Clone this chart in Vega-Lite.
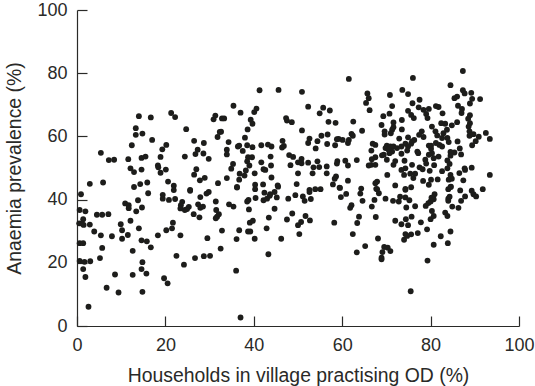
{"$schema":"https://vega.github.io/schema/vega-lite/v6.json","width":442,"height":316,"autosize":{"type":"none"},"padding":{"left":77,"top":10,"right":16,"bottom":60},"background":"white","config":{"view":{"stroke":null}},
"data":{"values":[
{"x":2.9,"y":45},{"x":5.9,"y":45.4},{"x":5.4,"y":54.8},{"x":7.2,"y":52.5},{"x":8.4,"y":52.6},{"x":11.6,"y":52.8},{"x":12.1,"y":49.9},{"x":12.9,"y":48.7},{"x":14.6,"y":49.5},{"x":12.4,"y":57.2},{"x":13.3,"y":62.6},{"x":13.3,"y":60.5},{"x":14.8,"y":60.9},{"x":14,"y":66.4},{"x":16.7,"y":66},{"x":17,"y":58.9},{"x":14.6,"y":53.2},{"x":15.5,"y":53.6},{"x":12.9,"y":44},{"x":14.3,"y":44.9},{"x":15.9,"y":45.4},{"x":18.9,"y":53.5},{"x":19.3,"y":55.9},{"x":20.2,"y":57.3},{"x":18.3,"y":50.8},{"x":18.4,"y":50.2},{"x":18.9,"y":48.5},{"x":20.1,"y":49.5},{"x":20.6,"y":45.7},{"x":21.9,"y":44.4},{"x":21.3,"y":67.4},{"x":22.2,"y":66.1},{"x":24.7,"y":62.3},{"x":24.4,"y":53.6},{"x":26.5,"y":58.6},{"x":28.7,"y":57.9},{"x":27.3,"y":55.8},{"x":26.8,"y":54.4},{"x":28.6,"y":54.6},{"x":29.8,"y":52.9},{"x":27,"y":49.6},{"x":26.5,"y":47.9},{"x":27.8,"y":46.1},{"x":28.9,"y":46.9},{"x":25.6,"y":43.1},{"x":31.9,"y":45.2},{"x":30.9,"y":65.4},{"x":31.3,"y":66.6},{"x":32.8,"y":65.7},{"x":33.3,"y":65.7},{"x":32.6,"y":61.5},{"x":32.3,"y":61.4},{"x":31.8,"y":59.8},{"x":34.3,"y":58.2},{"x":33.9,"y":55.8},{"x":33.9,"y":54.3},{"x":35.4,"y":69.7},{"x":37,"y":67.5},{"x":36.4,"y":56.8},{"x":36.7,"y":57.1},{"x":37.5,"y":55.4},{"x":38,"y":59.6},{"x":38.5,"y":57.2},{"x":39.7,"y":56.6},{"x":38.6,"y":62.2},{"x":39.3,"y":65.3},{"x":39.7,"y":64},{"x":40.1,"y":67.7},{"x":40.6,"y":68.8},{"x":41.3,"y":74.6},{"x":41.7,"y":57.2},{"x":38.7,"y":53.4},{"x":39.6,"y":53.4},{"x":38.5,"y":52.1},{"x":39,"y":50.8},{"x":41.7,"y":51.8},{"x":42.2,"y":49.6},{"x":35.3,"y":51.3},{"x":34.9,"y":49.8},{"x":33.9,"y":46.8},{"x":36.8,"y":48.2},{"x":38.2,"y":49.2},{"x":37.9,"y":47.6},{"x":36.7,"y":46.3},{"x":40.2,"y":48.3},{"x":36.2,"y":44},{"x":40.3,"y":44.7},{"x":42.1,"y":44.8},
{"x":87.3,"y":80.7},{"x":61.5,"y":78.2},{"x":76,"y":78.5},{"x":45.6,"y":74.7},{"x":50.9,"y":74.1},{"x":84.5,"y":76.2},{"x":65.7,"y":73.6},{"x":66,"y":72.1},{"x":65.4,"y":70.6},{"x":66.2,"y":68.3},{"x":70.8,"y":73.1},{"x":73.6,"y":74.7},{"x":74.9,"y":73.4},{"x":77.5,"y":71.6},{"x":75.9,"y":70.5},{"x":71.3,"y":69.6},{"x":70.7,"y":67.2},{"x":69.3,"y":66.4},{"x":74.9,"y":68.1},{"x":75.6,"y":66.8},{"x":76.2,"y":65.8},{"x":77.3,"y":69.2},{"x":78.4,"y":68.4},{"x":79.6,"y":68.7},{"x":79,"y":67.1},{"x":79.3,"y":65.8},{"x":81.2,"y":69.6},{"x":81.8,"y":69.3},{"x":82.7,"y":67.3},{"x":85.4,"y":72.1},{"x":86,"y":72.6},{"x":87.3,"y":74.6},{"x":87.7,"y":73.6},{"x":89.2,"y":73.8},{"x":89.4,"y":71.9},{"x":88.9,"y":70.4},{"x":91.2,"y":71.8},{"x":86.2,"y":69.7},{"x":87.1,"y":68.7},{"x":87,"y":67.4},{"x":88.9,"y":66.7},{"x":88.5,"y":65.6},{"x":86,"y":64.5},{"x":88.9,"y":64.2},{"x":88.6,"y":63.1},{"x":84.8,"y":63.5},{"x":82.4,"y":64.2},{"x":83.3,"y":64},{"x":80.3,"y":63.1},{"x":81.1,"y":61.6},{"x":81.5,"y":60.3},{"x":83.7,"y":62.1},{"x":82.9,"y":61},{"x":82.6,"y":59.5},{"x":83.8,"y":59.5},{"x":84.1,"y":58.2},{"x":88.8,"y":61.6},{"x":88.8,"y":60.2},{"x":89.7,"y":60.7},{"x":90.9,"y":59.9},{"x":92.5,"y":61.1},{"x":93.4,"y":59.2},{"x":90.2,"y":58.5},{"x":89.4,"y":57.2},{"x":86.1,"y":58.4},{"x":86.6,"y":56.2},{"x":86.9,"y":54.3},{"x":85.4,"y":54.9},{"x":84.5,"y":55.1},{"x":84.5,"y":53.9},{"x":83.8,"y":52.4},{"x":84.3,"y":51.3},{"x":83.8,"y":49.9},{"x":86.5,"y":48.4},{"x":87.8,"y":49.4},{"x":87.7,"y":49.9},{"x":89.3,"y":50.1},{"x":93.4,"y":47.8},{"x":82.6,"y":49},{"x":84.5,"y":47.8},{"x":84.1,"y":46.3},{"x":84.8,"y":46.6},{"x":87.4,"y":46.1},{"x":84.6,"y":44.1},{"x":81.6,"y":46.4},{"x":79.8,"y":49.1},{"x":80.8,"y":50.9},{"x":81.8,"y":53.6},{"x":80.1,"y":56.1},{"x":79.6,"y":57.1},{"x":80.1,"y":57.1},{"x":81.2,"y":57.9},{"x":82,"y":57.3},{"x":82.6,"y":56.8},{"x":80.3,"y":54.7},{"x":79.6,"y":54.2},{"x":80.7,"y":53.1},{"x":78.8,"y":52.6},{"x":79,"y":51.4},{"x":77.5,"y":50.2},{"x":78.2,"y":49.6},{"x":75.8,"y":51},{"x":74.1,"y":52.3},{"x":77,"y":55.2},{"x":77.2,"y":54.7},{"x":78,"y":61.6},{"x":77.4,"y":60.5},{"x":78.4,"y":59.8},{"x":76.3,"y":58.9},{"x":74.9,"y":59.7},{"x":72.9,"y":59.3},{"x":73.5,"y":62.2},{"x":73.5,"y":65.2},{"x":71.6,"y":64.4},{"x":71.6,"y":62.9},{"x":71.3,"y":62.1},{"x":68.9,"y":63.6},{"x":69.6,"y":61.6},{"x":69.6,"y":60.6},{"x":71,"y":61},
{"x":70.1,"y":57.1},{"x":70.9,"y":56.8},{"x":71.6,"y":56.8},{"x":69.8,"y":56.3},{"x":70.5,"y":55.8},{"x":71.3,"y":55.2},{"x":70.7,"y":54.7},{"x":72.4,"y":56.3},{"x":73.4,"y":56.8},{"x":74.3,"y":57.7},{"x":74.9,"y":56.8},{"x":75.8,"y":58.4},{"x":75.6,"y":57.7},{"x":74.7,"y":55.5},{"x":73.4,"y":54.5},{"x":69.4,"y":54.2},{"x":69,"y":54},{"x":67.5,"y":53.4},{"x":66.7,"y":52.8},{"x":67.5,"y":57.3},{"x":66.9,"y":57.7},{"x":66.6,"y":55.5},{"x":66.6,"y":51},{"x":67.5,"y":51},{"x":66,"y":50.8},{"x":70.1,"y":52.6},{"x":72,"y":52.2},{"x":71.6,"y":51},{"x":70.2,"y":47.8},{"x":74.3,"y":49.9},{"x":73.4,"y":49.4},{"x":74,"y":47.8},{"x":75.4,"y":48.2},{"x":76.5,"y":48.2},{"x":76.1,"y":46.8},{"x":78.3,"y":45.9},{"x":80.1,"y":46.3},{"x":79.6,"y":44.7},{"x":75.6,"y":43.9},{"x":74.3,"y":43.4},{"x":72,"y":44.5},{"x":67.9,"y":45.7},{"x":67.5,"y":45.2},{"x":67.7,"y":43.4},{"x":64.3,"y":43.5},{"x":64.5,"y":61.8},{"x":62.1,"y":60.8},{"x":62.4,"y":60.2},{"x":61.3,"y":57.9},{"x":61.5,"y":58.9},{"x":60.1,"y":58.9},{"x":59.2,"y":59.2},{"x":58.8,"y":59.1},{"x":58.4,"y":57.2},{"x":56.6,"y":57.6},{"x":56.7,"y":60.6},{"x":55.3,"y":60.2},{"x":54.4,"y":58.5},{"x":52.6,"y":59.3},{"x":52.3,"y":57.9},{"x":54,"y":56.2},{"x":50.9,"y":61.9},{"x":52.3,"y":69.4},{"x":54.9,"y":67.3},{"x":55.7,"y":69.1},{"x":57.2,"y":68.2},{"x":56.9,"y":64.6},{"x":58.5,"y":64.3},{"x":62.5,"y":64.7},{"x":47.3,"y":65.8},{"x":47.5,"y":65},{"x":48.6,"y":64.5},{"x":46.5,"y":58.6},{"x":46.4,"y":56.5},{"x":46.8,"y":57},{"x":43.2,"y":57.4},{"x":44,"y":56.8},{"x":43.8,"y":53.6},{"x":43.9,"y":50.8},{"x":48,"y":54.1},{"x":48.9,"y":53.5},{"x":48.3,"y":50.9},{"x":50,"y":51.8},{"x":50.8,"y":52.9},{"x":50.8,"y":51.5},{"x":52.3,"y":51.7},{"x":54.4,"y":52.1},{"x":53.5,"y":50.2},{"x":54.8,"y":50.3},{"x":56.5,"y":50.5},{"x":58.9,"y":52.2},{"x":58.8,"y":51.4},{"x":60.7,"y":52.3},{"x":61.3,"y":50.8},{"x":63.3,"y":52.5},{"x":50,"y":48.3},{"x":53.3,"y":48.3},{"x":56.5,"y":48.3},{"x":58.6,"y":47.3},{"x":58.3,"y":46.6},{"x":61.3,"y":46},{"x":57.9,"y":44.8},{"x":59.4,"y":43.8},{"x":49.7,"y":44.9},{"x":45.4,"y":44.5},{"x":44,"y":47},{"x":52.6,"y":43.1},{"x":53.9,"y":43.3},{"x":55.1,"y":43.3},{"x":42.6,"y":49.4},
{"x":0.9,"y":41.7},{"x":0.6,"y":36.7},{"x":1.9,"y":36.3},{"x":0.5,"y":32.5},{"x":1.4,"y":33.8},{"x":1.5,"y":32},{"x":1.1,"y":32.4},{"x":2.9,"y":32.1},{"x":3.9,"y":29.9},{"x":5.4,"y":28.7},{"x":4.5,"y":35.2},{"x":5.7,"y":35.2},{"x":7.1,"y":35.4},{"x":0.6,"y":26.2},{"x":1.4,"y":26.2},{"x":5.7,"y":24.7},{"x":5.2,"y":21.5},{"x":7.9,"y":28.4},{"x":0.6,"y":20.6},{"x":1.7,"y":20.3},{"x":3,"y":20.5},{"x":1.4,"y":18},{"x":1.9,"y":15.5},{"x":2.6,"y":6.1},{"x":6.7,"y":12.1},{"x":8.6,"y":16.3},{"x":9.4,"y":10.6},{"x":9.9,"y":32.2},{"x":10.2,"y":30.3},{"x":10.2,"y":27.6},{"x":11.5,"y":28.8},{"x":12.1,"y":33.3},{"x":10.9,"y":38.8},{"x":11.7,"y":38.2},{"x":11.7,"y":37.3},{"x":13.4,"y":36.3},{"x":13.8,"y":39.8},{"x":14.7,"y":37.5},{"x":14,"y":30.9},{"x":12.6,"y":23.8},{"x":14.6,"y":27.1},{"x":15.8,"y":26.8},{"x":16.7,"y":24.9},{"x":14.8,"y":20.2},{"x":14.6,"y":18},{"x":15.7,"y":16.6},{"x":12.6,"y":16.2},{"x":14.8,"y":10.8},{"x":16.1,"y":42},{"x":19.4,"y":41.5},{"x":19.4,"y":40.3},{"x":20.8,"y":39.9},{"x":22.2,"y":40.2},{"x":21.9,"y":43},{"x":25.6,"y":42.8},{"x":27.9,"y":40.8},{"x":29.8,"y":42.4},{"x":29.3,"y":41.9},{"x":31.4,"y":39.4},{"x":23.8,"y":39.3},{"x":23.5,"y":38.2},{"x":23.4,"y":37.2},{"x":24.4,"y":36.7},{"x":25.3,"y":37.7},{"x":24.9,"y":37},{"x":27.4,"y":38.5},{"x":27.9,"y":37.4},{"x":28.5,"y":37.8},{"x":26.4,"y":35.4},{"x":27.7,"y":34.4},{"x":31.5,"y":36.7},{"x":32.1,"y":35.4},{"x":31.7,"y":34.6},{"x":31.4,"y":34.1},{"x":34.4,"y":38.5},{"x":35.4,"y":37.8},{"x":21.7,"y":32.7},{"x":21.5,"y":30.9},{"x":20.2,"y":30.3},{"x":18.3,"y":28.7},{"x":23.4,"y":28.7},{"x":22.5,"y":22.2},{"x":24.2,"y":19.4},{"x":26.7,"y":21.5},{"x":28.7,"y":22.1},{"x":30.1,"y":22.2},{"x":29.5,"y":27.8},{"x":32.5,"y":24.5},{"x":32.8,"y":30.2},{"x":36.1,"y":27.5},{"x":36.7,"y":30.3},{"x":36,"y":17.5},{"x":19.7,"y":15.1},{"x":20.5,"y":13.5},{"x":37,"y":2.7},{"x":38.8,"y":39.9},{"x":38.5,"y":39.4},{"x":38.9,"y":36.9},{"x":39.1,"y":32.7},{"x":39.8,"y":33.3},{"x":38.7,"y":29.9},{"x":39.2,"y":29.9},{"x":40.2,"y":27.6},{"x":40.4,"y":40.5},{"x":42.2,"y":39.8},{"x":43,"y":40.3},{"x":43.6,"y":41.2},{"x":42.4,"y":42.2},{"x":40.3,"y":43.3},{"x":36.2,"y":43.8},{"x":42.9,"y":30.9},{"x":43.4,"y":34.3},{"x":43.3,"y":22.7},
{"x":43.7,"y":41.7},{"x":44.7,"y":42.4},{"x":45.2,"y":40.7},{"x":45.5,"y":44.1},{"x":47.8,"y":40.3},{"x":49.4,"y":41.4},{"x":51.1,"y":41},{"x":51.5,"y":39.6},{"x":52.9,"y":40.2},{"x":52.6,"y":42.4},{"x":59.5,"y":43.7},{"x":60.9,"y":41.8},{"x":59.7,"y":40.8},{"x":64.1,"y":41.9},{"x":64.6,"y":39.6},{"x":67.9,"y":43.3},{"x":68.3,"y":42},{"x":67.3,"y":39.9},{"x":66.7,"y":37.8},{"x":69.8,"y":40.3},{"x":71.5,"y":39.6},{"x":72.8,"y":39.4},{"x":73.1,"y":40.9},{"x":74.3,"y":40.7},{"x":74.3,"y":43.1},{"x":75.2,"y":39.8},{"x":74.5,"y":37.5},{"x":76.5,"y":37.9},{"x":62.1,"y":38.2},{"x":61.8,"y":37.4},{"x":44.7,"y":37.1},{"x":48.7,"y":35.6},{"x":47.5,"y":33.7},{"x":51.7,"y":34.8},{"x":50.7,"y":32.9},{"x":50,"y":31.9},{"x":52.7,"y":33.4},{"x":50.3,"y":29.1},{"x":46.2,"y":27.6},{"x":58.2,"y":32.7},{"x":63.8,"y":34.6},{"x":63.4,"y":32.6},{"x":62.4,"y":29.1},{"x":65.2,"y":25.3},{"x":63.3,"y":23.3},{"x":67.6,"y":34.5},{"x":68.1,"y":27.7},{"x":69.5,"y":25},{"x":70.3,"y":24.8},{"x":69.1,"y":23.4},{"x":70.9,"y":23.7},{"x":68.9,"y":21.6},{"x":68.9,"y":21.1},{"x":72,"y":33.3},{"x":73.4,"y":32.2},{"x":74.4,"y":33.8},{"x":75.7,"y":34.6},{"x":74.9,"y":31.9},{"x":74.3,"y":29.1},{"x":74,"y":27.3},{"x":74.7,"y":28.5},{"x":75.6,"y":29},{"x":77.1,"y":29.4},{"x":77.8,"y":32.8},{"x":79.2,"y":30.6},{"x":80,"y":33.8},{"x":80.7,"y":34.8},{"x":80.3,"y":36.4},{"x":78.9,"y":38},{"x":79.5,"y":38.9},{"x":80,"y":39.4},{"x":80.7,"y":40.1},{"x":80.9,"y":41.7},{"x":80.2,"y":40.6},{"x":84,"y":43.3},{"x":84.5,"y":44},{"x":84,"y":40.3},{"x":84.3,"y":40.9},{"x":84,"y":39.6},{"x":84.9,"y":37.8},{"x":86.3,"y":37.4},{"x":86.9,"y":39.6},{"x":87.8,"y":41},{"x":86.7,"y":42.9},{"x":89.3,"y":42.8},{"x":89.7,"y":41.7},{"x":90.3,"y":41},{"x":91.8,"y":43.3},{"x":83.3,"y":35.9},{"x":83.8,"y":34.8},{"x":84.5,"y":29.9},{"x":82.3,"y":28.4},{"x":83.9,"y":26.2},{"x":80.7,"y":25.7},{"x":79.3,"y":20.7},{"x":75.5,"y":11}
]},
"mark":{"type":"circle","size":34,"color":"#1d1d1b","opacity":1},
"encoding":{
"x":{"field":"x","type":"quantitative","scale":{"domain":[0,100],"nice":false},"axis":{"values":[0,20,40,60,80,100],"title":"Households in village practising OD (%)","grid":false,"tickSize":-10,"tickColor":"#2a2a28","domainColor":"#2a2a28","domainWidth":1.2,"tickWidth":1.2,"labelColor":"#2a2a28","titleColor":"#2a2a28","labelFont":"Liberation Sans","titleFont":"Liberation Sans","labelFontSize":18,"titleFontSize":19.4,"titleFontWeight":"normal","labelPadding":20,"titlePadding":12,"labelOverlap":false,"labelFlush":false}},
"y":{"field":"y","type":"quantitative","scale":{"domain":[0,100],"nice":false},"axis":{"values":[0,20,40,60,80,100],"title":"Anaemia prevalence (%)","grid":false,"tickSize":-10,"tickColor":"#2a2a28","domainColor":"#2a2a28","domainWidth":1.2,"tickWidth":1.2,"labelColor":"#2a2a28","titleColor":"#2a2a28","labelFont":"Liberation Sans","titleFont":"Liberation Sans","labelFontSize":18,"titleFontSize":19.4,"titleFontWeight":"normal","labelPadding":20,"titlePadding":12,"labelOverlap":false}}
}}
